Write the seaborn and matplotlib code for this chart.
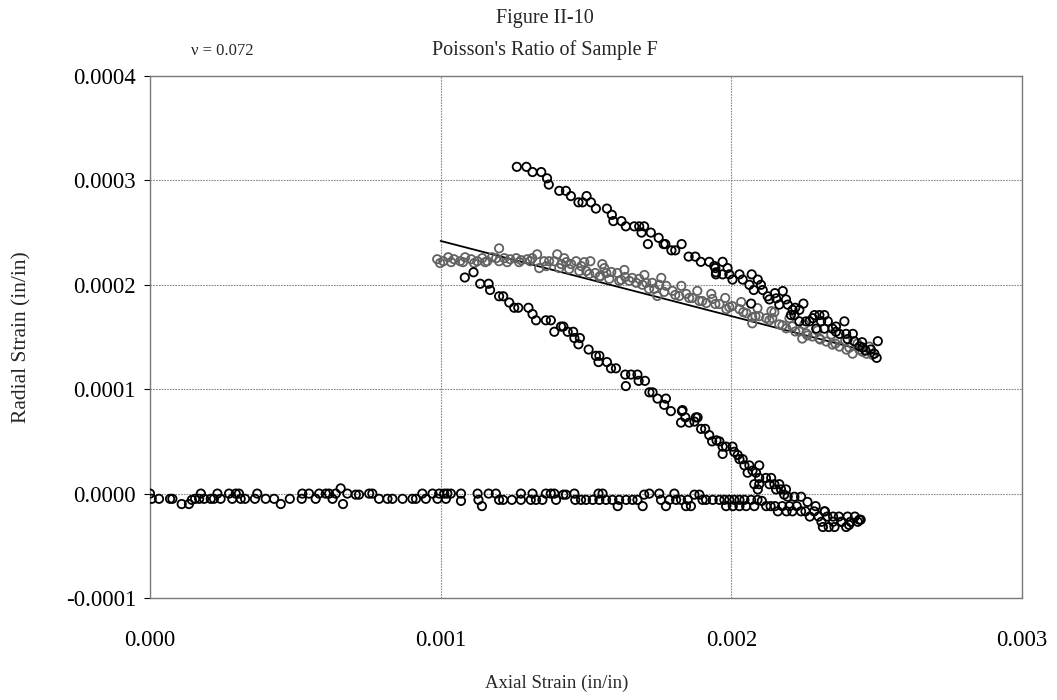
import numpy as np
import pandas as pd
import matplotlib
matplotlib.use("Agg")
import matplotlib.pyplot as plt
import seaborn as sns
from matplotlib.ticker import FormatStrFormatter

# ---- data (microstrain, in/in x 1e-6) ----
base_x = [0, 6, 31, 69, 77, 109, 134, 144, 155, 169, 175, 186, 209, 220, 232, 243, 272, 283, 295, 306,
          312, 327, 361, 369, 398, 427, 450, 481, 522, 524, 547, 570, 582, 605, 616, 628, 639, 656, 664,
          679, 708, 719, 754, 765, 788, 817, 834, 869, 903, 915, 937, 949, 972, 989, 995, 1012, 1018, 1035,
          1023, 1070, 1070, 1127, 1130, 1142, 1165, 1190, 1201, 1215, 1245, 1276, 1276, 1316, 1310, 1328,
          1350, 1362, 1379, 1391, 1397, 1422, 1431, 1460, 1463, 1483, 1500, 1523, 1543, 1557, 1546, 1569,
          1591, 1609, 1614, 1638, 1660, 1677, 1695, 1700, 1718, 1752, 1758, 1775, 1787, 1804, 1810, 1827,
          1844, 1850, 1861, 1873, 1890, 1901, 1913, 1936, 1959, 1976, 1982, 1993, 2010, 2005, 2028, 2028,
          2045, 2051, 2068, 2079, 2090, 2105, 2120, 2135, 2150, 2160, 2175, 2190, 2200, 2210, 2225, 2240,
          2255, 2270, 2285, 2300, 2310, 2320, 2330, 2315, 2335, 2350, 2355, 2370, 2380, 2395, 2400, 2410,
          2425, 2435, 2445]
base_y = [0, -5, -5, -5, -5, -10, -10, -6, -5, -5, 0, -5, -5, -5, 0, -5, 0, -5, 0, 0,
          -5, -5, -5, 0, -5, -5, -10, -5, -5, 0, 0, -5, 0, 0, 0, -5, 0, 5, -10,
          0, -1, -1, 0, 0, -5, -5, -5, -5, -5, -5, 0, -5, 0, -5, 0, 0, -5, 0,
          0, 0, -7, 0, -6, -12, 0, 0, -6, -6, -6, 0, -6, 0, -6, -6,
          -6, 0, 0, 0, -6, -1, -1, 0, -6, -6, -6, -6, 0, 0, -6, -6,
          -6, -12, -6, -6, -6, -6, -12, -1, 0, 0, -6, -12, -6, 0, -6, -6,
          -12, -6, -12, -1, -1, -6, -6, -6, -6, -6, -12, -6, -6, -12, -6, -12,
          -6, -12, -6, -12, -6, -7, -12, -12, -12, -17, -12, -17, -12, -17, -12, -17,
          -17, -22, -17, -22, -27, -17, -22, -32, -32, -27, -32, -22, -27, -32, -22, -27,
          -22, -27, -25]

desc_x = [1083, 1113, 1136, 1165, 1170, 1201, 1215, 1236, 1253, 1267, 1302, 1316, 1328, 1362, 1379, 1391,
          1414, 1422, 1437, 1456, 1460, 1479, 1474, 1509, 1534, 1546, 1543, 1572, 1586, 1603, 1635, 1655,
          1677, 1637, 1681, 1703, 1718, 1729, 1746, 1775, 1769, 1792, 1830, 1827, 1855, 1842, 1878, 1832,
          1873, 1884, 1896, 1910, 1924, 1934, 1949, 1959, 1970, 1982, 2004, 1970, 2010, 2022, 2028, 2039,
          2045, 2062, 2056, 2073, 2096, 2085, 2096, 2079, 2096, 2091, 2119, 2137, 2131, 2148, 2154, 2165,
          2171, 2188, 2182, 2194, 2217, 2240, 2262, 2290, 2322, 2350, 2378, 2405, 2440]
desc_y = [207, 212, 201, 201, 195, 189, 189, 183, 178, 178, 178, 172, 166, 166, 166, 155,
          160, 160, 155, 155, 149, 149, 143, 138, 132, 132, 126, 126, 120, 120, 114, 114,
          114, 103, 108, 108, 97, 97, 91, 91, 85, 79, 79, 68, 68, 73, 73, 80,
          69, 73, 62, 62, 56, 50, 51, 50, 45, 45, 45, 38, 40, 37, 33, 33,
          27, 27, 20, 22, 27, 20, 15, 9, 9, 4, 15, 15, 9, 9, 4, 9,
          4, 4, -1, -3, -3, -3, -8, -12, -17, -22, -27, -30, -25]

gray_x = [988, 1009, 1026, 1046, 1067, 1084, 1105, 1126, 1143, 1160, 1177, 1201, 1201, 1219, 1239, 1260,
          1277, 1298, 1315, 1332, 1339, 1356, 1373, 1391, 1401, 1415, 1432, 1449, 1466, 1484, 1501, 1515,
          1532, 1549, 1563, 1570, 1587, 1608, 1614, 1635, 1659, 1673, 1683, 1707, 1717, 1728, 1745, 1752,
          1776, 1797, 1821, 1845, 1866, 1890, 1914, 1935, 1959, 1983, 2003, 2028, 2052, 2072, 2072, 2096,
          2120, 2138, 2141, 2165, 2189, 2210, 2234, 2244, 2258, 2279, 2303, 2327, 2348, 2372, 2396, 2417,
          2441, 2465, 2485,
          998, 1036, 1077, 1115, 1153, 1191, 1229, 1270, 1308, 1363, 1408, 1442, 1477, 1511, 1546, 1580,
          1621, 1649, 1694, 1735, 1769, 1807, 1855, 1900, 1945, 1993, 2041, 2083, 2131, 2176, 2220, 2262,
          2306, 2358, 2406, 2451,
          1425, 1494, 1556, 1632, 1701, 1759, 1828, 1883, 1931, 1979, 2034, 2090, 2148, 2200, 2251, 2296,
          2344, 2392, 2434, 2475]
gray_y = [224.5, 222.6, 226.4, 224.5, 222.6, 226.4, 224.5, 222.6, 225.5, 222.6, 226.4, 234.9, 222.6, 225.5, 224.5, 225.5,
          223.6, 224.5, 225.5, 229.2, 216.0, 222.6, 222.6, 222.6, 229.2, 219.8, 221.7, 219.8, 222.6, 217.9, 213.2, 222.6,
          211.3, 208.5, 216.0, 211.3, 212.3, 211.3, 203.8, 207.5, 206.6, 201.9, 205.7, 201.9, 196.1, 201.9, 189.3, 200.0,
          199.0, 194.2, 189.3, 191.3, 187.4, 184.5, 182.5, 186.4, 181.6, 176.7, 179.6, 176.7, 172.8, 168.9, 163.1, 169.9,
          168.0, 174.8, 168.0, 162.1, 158.3, 160.2, 155.3, 148.5, 153.4, 150.5, 148.5, 145.6, 142.7, 140.8, 137.9, 134.0,
          137.9, 134.0, 133.0,
          220.8, 221.7, 221.7, 220.8, 221.7, 225.5, 221.7, 221.7, 222.6, 217.9, 216.0, 215.1, 213.2, 210.4, 207.5, 205.7,
          204.7, 203.8, 200.0, 196.1, 193.2, 190.3, 187.4, 184.5, 181.6, 178.6, 173.8, 169.9, 166.0, 161.2, 155.3, 151.5,
          147.6, 143.7, 139.8, 135.9,
          225.5, 221.7, 219.8, 214.2, 209.4, 206.6, 199.0, 194.2, 191.3, 187.4, 183.5, 177.7, 173.8, 168.0, 162.1, 156.3,
          152.4, 146.6, 143.7, 140.8]

upper_x = [1262, 1295, 1316, 1346, 1366, 1372, 1408, 1431, 1448, 1474, 1488, 1502, 1517, 1534, 1572, 1589,
           1594, 1622, 1637, 1666, 1683, 1700, 1691, 1713, 1723, 1750, 1767, 1773, 1794, 1807, 1829, 1853,
           1876, 1895, 1924, 1941, 1947, 1945, 1970, 1987, 1947, 1970, 1993, 2004, 2028, 2039, 2062, 2070,
           2091, 2077, 2102, 2108, 2125, 2131, 2154, 2177, 2188, 2165, 2194, 2211, 2234, 2217, 2248, 2205,
           2234, 2257, 2286, 2303, 2320, 2269, 2309, 2332, 2292, 2320, 2348, 2360, 2389, 2372, 2395, 2418,
           2423, 2441, 2452, 2462, 2492, 2504, 2068,
           2150, 2220, 2280, 2360, 2400, 2450, 2480, 2500]
upper_y = [313, 313, 308, 308, 302, 296, 290, 290, 285, 279, 279, 285, 279, 273, 273, 267,
           261, 261, 256, 256, 256, 256, 250, 239, 250, 245, 239, 239, 233, 233, 239, 227,
           227, 222, 222, 218, 212, 216, 222, 216, 210, 210, 210, 205, 210, 205, 200, 210,
           205, 195, 200, 195, 189, 186, 187, 194, 186, 181, 181, 176, 176, 171, 182, 171,
           165, 165, 171, 171, 171, 165, 165, 165, 158, 158, 158, 155, 165, 153, 153, 153,
           146, 141, 140, 137, 134, 146, 182,
           192, 178, 168, 160, 148, 145, 138, 130]

# regression line, Poisson's ratio nu = 0.072
nu = 0.072
fit_x = [1000, 2500]
fit_y = [242, 134]

x_ticks = [0.000, 0.001, 0.002, 0.003]
y_ticks = [-0.0001, 0.0000, 0.0001, 0.0002, 0.0003, 0.0004]

u = 1e-6
sns.set_theme(style="white")
plt.rcParams["font.family"] = ["Liberation Serif", "DejaVu Serif"]

fig = plt.figure(figsize=(10.57, 7.0), dpi=100)
ax = fig.add_axes([150 / 1057, 1 - 598 / 700, (1022 - 150) / 1057, (598 - 76) / 700])

sns.lineplot(x=np.array(fit_x) * u, y=np.array(fit_y) * u, ax=ax, color="black", linewidth=1.3, zorder=2)

mk = dict(marker="o", s=36, facecolor="none", linewidth=1.3, legend=False, zorder=3)
sns.scatterplot(x=np.array(gray_x) * u, y=np.array(gray_y) * u, ax=ax, edgecolor="#626262", **mk)
sns.scatterplot(x=np.array(base_x) * u, y=np.array(base_y) * u, ax=ax, edgecolor="black", **mk)
sns.scatterplot(x=np.array(desc_x) * u, y=np.array(desc_y) * u, ax=ax, edgecolor="black", **mk)
sns.scatterplot(x=np.array(upper_x) * u, y=np.array(upper_y) * u, ax=ax, edgecolor="black", **mk)

ax.set_xlim(0, 0.003)
ax.set_ylim(-0.0001, 0.0004)
ax.set_xticks(x_ticks)
ax.set_yticks(y_ticks)
ax.xaxis.set_major_formatter(FormatStrFormatter("%.3f"))
ax.yaxis.set_major_formatter(FormatStrFormatter("%.4f"))
ax.tick_params(axis="x", length=0, pad=23, labelsize=16.5, colors="black")
ax.tick_params(axis="y", length=4, width=0.8, pad=6, labelsize=16.5, colors="black", direction="out", left=True)
ax.grid(True, color="#8a8a8a", linewidth=0.8, linestyle=(0, (1.5, 1)))
for sp in ax.spines.values():
    sp.set_color("#7a7a7a")
    sp.set_linewidth(1.0)

ax.set_xlabel("Axial Strain (in/in)", fontsize=13.5)
ax.set_ylabel("Radial Strain (in/in)", fontsize=15.5)
ax.xaxis.set_label_coords((557 - 150) / 872, (598 - 683) / 522)
ax.yaxis.set_label_coords((22 - 150) / 872, 0.5)
ax.xaxis.label.set_va("center")
ax.yaxis.label.set_va("center")

fig.text(545 / 1057, 1 - 18 / 700, "Figure II-10", ha="center", va="center", fontsize=14.5)
fig.text(545 / 1057, 1 - 50 / 700, "Poisson's Ratio of Sample F", ha="center", va="center", fontsize=14.5)
fig.text(222 / 1057, 1 - 51 / 700, "\u03bd = %.3f" % nu, ha="center", va="center", fontsize=12)

fig.savefig("out.png", dpi=100, facecolor="white")
